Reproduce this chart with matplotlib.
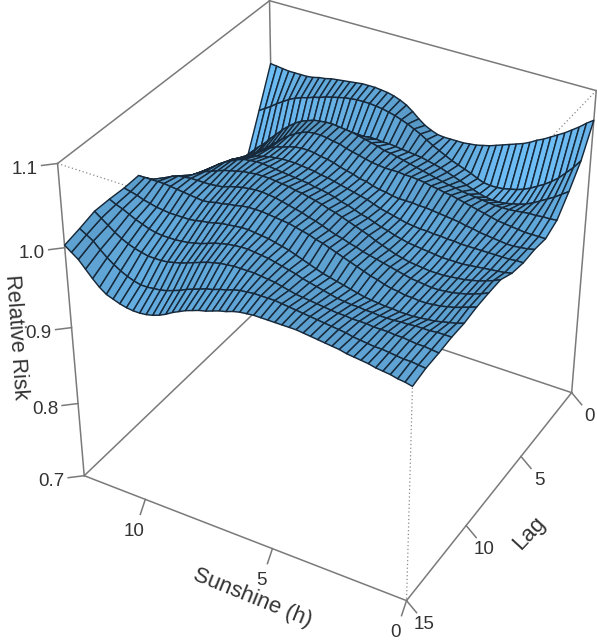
import numpy as np
import matplotlib
matplotlib.use("Agg")
import matplotlib.pyplot as plt
from matplotlib.lines import Line2D

W, H = 597, 642
plt.rcParams['font.family'] = ['Liberation Sans', 'DejaVu Sans']

sunshine = np.arange(51) * 0.25
lag = np.arange(16)

# relative risk along each lag, sunshine going 0 -> 12.5 in steps of 0.25
rr_lag0 = [1.064,1.058,1.051,1.045,1.039,1.034,1.029,1.024,1.020,1.015,1.011,1.008,1.005,1.002,.999,.996,.994,.992,.991,.990,.990,.990,.990,.991,.994,.998,1.004,1.011,1.017,1.021,1.024,1.026,1.027,1.028,1.028,1.028,1.027,1.026,1.025,1.024,1.023,1.021,1.020,1.018,1.017,1.017,1.017,1.017,1.018,1.019,1.020]
rr_lag1 = [1.028,1.017,1.008,.999,.992,.986,.981,.976,.972,.969,.967,.965,.964,.964,.965,.968,.972,.975,.978,.981,.985,.989,.993,.998,1.003,1.007,1.011,1.014,1.017,1.019,1.021,1.022,1.023,1.023,1.023,1.022,1.021,1.019,1.017,1.015,1.012,1.010,1.007,1.005,1.002,.998,.993,.988,.982,.977,.972]
rr_lag2 = [1.004,.998,.992,.987,.982,.977,.973,.970,.968,.966,.965,.965,.966,.968,.971,.974,.977,.980,.983,.986,.988,.990,.992,.993,.994,.995,.996,.997,.997,.998,.998,.997,.996,.994,.991,.987,.983,.979,.974,.970,.965,.961,.956,.952,.948,.944,.940,.937,.933,.929,.925]
rr_lag3 = [.983,.982,.982,.981,.981,.980,.979,.978,.978,.978,.979,.980,.981,.982,.983,.985,.986,.988,.990,.992,.994,.996,.998,1.000,1.002,1.004,1.005,1.008,1.010,1.012,1.014,1.016,1.017,1.018,1.019,1.019,1.018,1.017,1.014,1.011,1.006,1.000,.993,.985,.977,.968,.961,.953,.945,.933,.920]
rr_lag4 = [.975,.975,.975,.975,.976,.977,.978,.979,.981,.983,.985,.987,.989,.991,.993,.994,.996,.997,.999,1.000,1.001,1.001,1.002,1.002,1.002,1.003,1.004,1.006,1.008,1.010,1.012,1.015,1.016,1.018,1.019,1.019,1.018,1.015,1.011,1.006,1.000,.993,.986,.979,.972,.964,.958,.952,.945,.935,.925]
rr_lag5 = [.977,.975,.974,.973,.973,.974,.975,.976,.977,.979,.980,.982,.983,.984,.985,.986,.987,.987,.988,.988,.988,.989,.991,.992,.994,.997,.998,1.001,1.003,1.005,1.008,1.010,1.011,1.013,1.014,1.014,1.013,1.011,1.008,1.006,1.002,.997,.992,.987,.981,.973,.967,.960,.952,.941,.930]
rr_lag6 = [.976,.976,.975,.975,.975,.975,.975,.975,.975,.975,.976,.976,.977,.977,.978,.978,.979,.980,.982,.984,.986,.988,.991,.994,.996,.998,1.000,1.002,1.004,1.006,1.007,1.009,1.010,1.011,1.012,1.012,1.012,1.011,1.010,1.008,1.006,1.003,1.000,.996,.992,.986,.980,.973,.965,.955,.945]
rr_lag7 = [.979,.977,.976,.975,.974,.973,.972,.971,.971,.971,.971,.972,.973,.974,.975,.976,.978,.980,.983,.985,.988,.991,.993,.996,.999,1.001,1.004,1.006,1.008,1.009,1.011,1.012,1.013,1.014,1.015,1.016,1.017,1.018,1.018,1.017,1.016,1.013,1.009,1.005,1.000,.994,.988,.982,.975,.967,.958]
rr_lag8 = [.987,.983,.980,.977,.975,.973,.972,.971,.970,.970,.970,.971,.972,.973,.975,.977,.980,.983,.986,.990,.993,.996,.999,1.002,1.005,1.007,1.010,1.012,1.014,1.016,1.017,1.019,1.020,1.021,1.022,1.022,1.022,1.021,1.020,1.018,1.016,1.014,1.011,1.008,1.005,1.001,.996,.991,.985,.979,.972]
rr_lag9 = [.987,.983,.980,.977,.975,.973,.972,.971,.971,.972,.973,.974,.976,.978,.980,.982,.984,.986,.988,.991,.993,.996,.998,1.001,1.004,1.007,1.009,1.012,1.014,1.016,1.018,1.020,1.021,1.022,1.022,1.021,1.020,1.018,1.016,1.013,1.012,1.011,1.011,1.011,1.011,1.010,1.009,1.006,1.002,.995,.987]
rr_lag10 = [.986,.983,.980,.977,.975,.973,.972,.971,.971,.972,.972,.974,.975,.977,.980,.982,.985,.988,.991,.994,.997,1.000,1.003,1.005,1.008,1.010,1.012,1.014,1.015,1.016,1.017,1.018,1.018,1.018,1.017,1.015,1.014,1.012,1.011,1.009,1.008,1.009,1.010,1.011,1.012,1.013,1.014,1.014,1.014,1.014,1.014]
rr_lag11 = [.983,.980,.978,.976,.974,.973,.972,.971,.971,.971,.972,.972,.973,.974,.975,.977,.979,.981,.983,.985,.987,.990,.993,.996,.999,1.002,1.004,1.006,1.008,1.009,1.010,1.011,1.011,1.010,1.009,1.008,1.006,1.004,1.003,1.001,1.000,1.000,1.000,1.000,1.001,1.002,1.004,1.006,1.009,1.011,1.013]
rr_lag12 = [.983,.983,.983,.982,.982,.982,.981,.981,.980,.980,.980,.981,.981,.982,.982,.983,.984,.986,.988,.990,.992,.994,.997,.999,1.001,1.003,1.005,1.006,1.007,1.008,1.008,1.007,1.006,1.004,1.002,.999,.996,.994,.992,.991,.990,.990,.990,.991,.993,.996,.999,1.003,1.007,1.010,1.014]
rr_lag13 = [.981,.982,.983,.983,.984,.985,.985,.986,.986,.986,.987,.987,.987,.988,.988,.989,.990,.991,.992,.993,.994,.996,.998,1.000,1.001,1.002,1.003,1.003,1.003,1.003,1.002,1.001,.999,.997,.994,.991,.988,.985,.983,.981,.980,.980,.980,.982,.984,.987,.991,.996,1.002,1.008,1.014]
rr_lag14 = [.980,.981,.982,.982,.983,.984,.985,.985,.986,.987,.988,.990,.991,.992,.993,.994,.995,.996,.997,.998,.999,1.000,1.000,1.000,1.000,.999,.998,.996,.993,.991,.988,.986,.983,.980,.977,.973,.970,.967,.965,.964,.963,.963,.965,.968,.972,.977,.983,.990,.998,1.003,1.008]
rr_lag15 = [.976,.978,.979,.981,.982,.983,.985,.986,.987,.988,.990,.991,.992,.993,.994,.995,.996,.996,.996,.996,.996,.996,.996,.995,.994,.992,.989,.987,.984,.981,.979,.976,.973,.969,.965,.960,.956,.953,.951,.950,.950,.951,.953,.956,.959,.965,.973,.982,.991,.997,1.003]

z_ticks = [0.7, 0.8, 0.9, 1.0, 1.1]
sun_ticks = [0, 5, 10]
lag_ticks = [0, 5, 10, 15]

rr = np.array([rr_lag0, rr_lag1, rr_lag2, rr_lag3, rr_lag4, rr_lag5, rr_lag6, rr_lag7,
               rr_lag8, rr_lag9, rr_lag10, rr_lag11, rr_lag12, rr_lag13, rr_lag14, rr_lag15])

SMAX, LMAX, ZMIN, ZMAX = 12.5, 15, 0.7, 1.1

# box corners -> where they sit in the picture, the camera is fitted from these
corners = [((SMAX, LMAX, ZMIN), (83, 475)), ((0, LMAX, ZMIN), (406, 600)),
           ((0, 0, ZMIN), (572, 393)), ((SMAX, 0, ZMIN), (276, 294)),
           ((SMAX, LMAX, ZMAX), (58, 163)), ((0, LMAX, ZMAX), (417, 281)),
           ((0, 0, ZMAX), (595, 89)), ((SMAX, 0, ZMAX), (269, 1))]


def fit_camera():
    rows = []
    for (x, y, z), (u, v) in corners:
        rows.append([x, y, z, 1, 0, 0, 0, 0, -u*x, -u*y, -u*z, -u])
        rows.append([0, 0, 0, 0, x, y, z, 1, -v*x, -v*y, -v*z, -v])
    scale = np.array([12.5, 15, 0.4, 1] * 2 + [12.5, 15, 0.4, 1])
    _, _, vt = np.linalg.svd(np.array(rows) * scale)
    P = (vt[-1] * scale).reshape(3, 4)
    w = P[2] @ np.array([SMAX/2, LMAX/2, 0.9, 1])
    return P / w


P = fit_camera()


def pixel(x, y, z):
    q = P @ np.array([x, y, z, 1.0])
    return q[0]/q[2], q[1]/q[2]


fig = plt.figure(figsize=(W/100, H/100), dpi=100)
ax = fig.add_axes([0, 0, 1, 1], projection='3d')
ax.apply_aspect = lambda position=None: None
ax.set_axis_off()
ax.computed_zorder = False
ax.patch.set_visible(False)


def get_proj():
    vl = ax.viewLim
    A = np.array([[vl.width/W, 0, 0], [0, -vl.height/H, 0], [0, 0, 0]])
    top = A @ P
    top[0] += vl.x0 * P[2]
    top[1] += vl.y1 * P[2]
    depth = P[2].copy()
    depth[3] -= 0.5
    return np.array([top[0], top[1], depth, P[2]])


ax.get_proj = get_proj


def fig_line(u0, v0, u1, v1, zorder=3, **kw):
    style = dict(color='#7a7a7a', lw=1.1)
    style.update(kw)
    fig.add_artist(Line2D([u0/W, u1/W], [1-v0/H, 1-v1/H], transform=fig.transFigure,
                          zorder=zorder, **style))


def fig_text(u, v, s, rot=0, size=13.5):
    fig.text(u/W, 1-v/H, s, ha='center', va='center', rotation=rot, rotation_mode='anchor',
             fontsize=size, color='#333333')


# the box sits behind the surface
for a, b in [((SMAX, LMAX, ZMIN), (0, LMAX, ZMIN)), ((0, LMAX, ZMIN), (0, 0, ZMIN)),
             ((0, 0, ZMIN), (SMAX, 0, ZMIN)), ((SMAX, 0, ZMIN), (SMAX, LMAX, ZMIN)),
             ((SMAX, LMAX, ZMIN), (SMAX, LMAX, ZMAX)), ((SMAX, LMAX, ZMAX), (SMAX, 0, ZMAX)),
             ((SMAX, 0, ZMAX), (0, 0, ZMAX)), ((0, 0, ZMAX), (0, 0, ZMIN)),
             ((SMAX, 0, ZMAX), (SMAX, 0, ZMIN))]:
    fig_line(*pixel(*a), *pixel(*b), zorder=-1)
for a, b in [((SMAX, LMAX, ZMAX), (0, LMAX, ZMAX)), ((0, 0, ZMAX), (0, LMAX, ZMAX)),
             ((0, LMAX, ZMAX), (0, LMAX, ZMIN))]:
    fig_line(*pixel(*a), *pixel(*b), zorder=-1, color='#8a8a8a', lw=0.9, ls=(0, (1, 2)))

# lighter where the sheet leans toward the viewer, darker in the folds
dz_lag, dz_sun = np.gradient(rr, lag, sunshine)
bright = np.clip(1.0 - 4.0 * dz_lag - 1.5 * np.abs(dz_sun), 0.8, 1.18)
base = np.array([0.37, 0.64, 0.83])
fc = np.clip(bright[..., None] * base, 0, 1)
fc = np.dstack([fc, np.ones(rr.shape)])

X, Y = np.meshgrid(sunshine, lag)
surf = ax.plot_surface(X, Y, rr, rstride=1, cstride=1, facecolors=fc, shade=False, zorder=2)
surf.set_edgecolor('#17293a')
surf.set_linewidth(1.05)

for t in z_ticks:
    u, v = pixel(SMAX, LMAX, t)
    fig_line(u, v, u-16, v+2)
    fig_text(u-33, v+6, f'{t:.1f}')
for t in sun_ticks:
    u, v = pixel(t, LMAX, ZMIN)
    fig_line(u, v, u-5, v+15)
    fig_text(u-11, v+32, str(t))
for t in lag_ticks:
    u, v = pixel(0, t, ZMIN)
    fig_line(u, v, u+10, v+12)
    fig_text(u+18, v+24, str(t))

fig_text(16, 337, 'Relative Risk', rot=-86, size=15.5)
fig_text(252, 598, 'Sunshine (h)', rot=-22, size=16)
fig_text(529, 533, 'Lag', rot=47, size=16)

fig.savefig('out.png', dpi=100, facecolor='white')
